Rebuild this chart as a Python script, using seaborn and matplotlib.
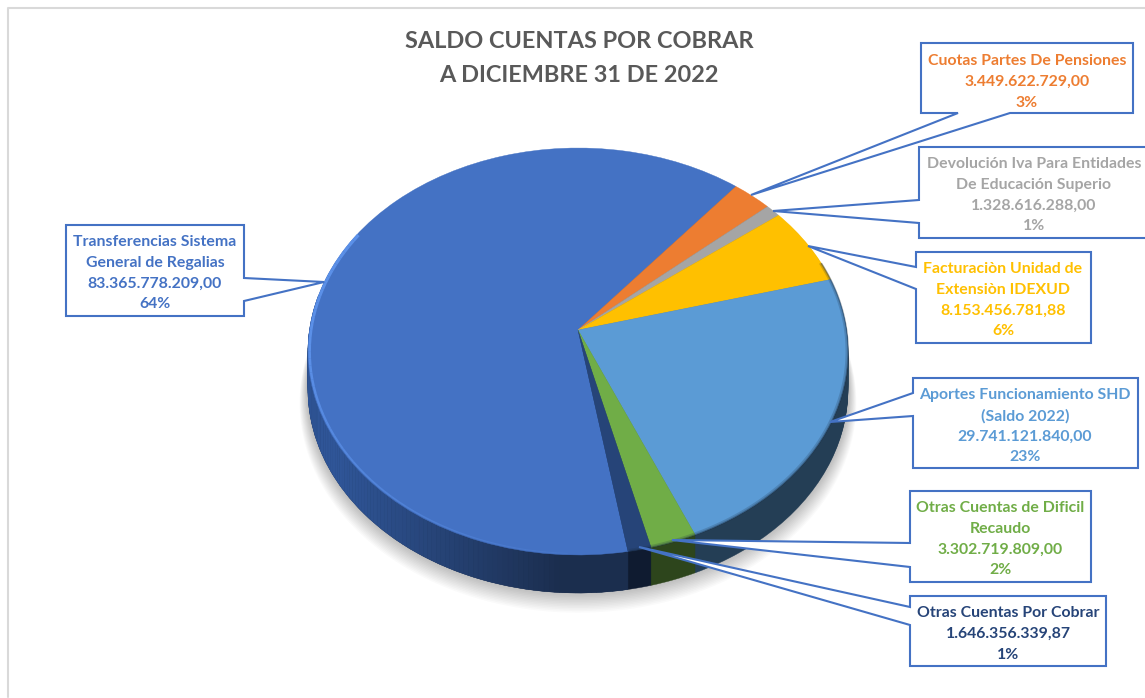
import numpy as np
import matplotlib
matplotlib.use("Agg")
import matplotlib.pyplot as plt
from matplotlib.colors import to_rgb
from matplotlib.patches import Polygon
from matplotlib.transforms import Affine2D, Transform
import seaborn as sns

sns.set_theme(style="white")
plt.rcParams['font.family'] = ['Lato', 'DejaVu Sans']

# data
categories = ["Transferencias Sistema\nGeneral de Regalias",
              "Cuotas Partes De Pensiones",
              "Devolución Iva Para Entidades\nDe Educación Superio",
              "Facturaciòn Unidad de\nExtensiòn IDEXUD",
              "Aportes Funcionamiento SHD\n(Saldo 2022)",
              "Otras Cuentas de Dificil\nRecaudo",
              "Otras Cuentas Por Cobrar"]
values = [83365778209.00, 3449622729.00, 1328616288.00, 8153456781.88,
          29741121840.00, 3302719809.00, 1646356339.87]
value_labels = ["83.365.778.209,00", "3.449.622.729,00", "1.328.616.288,00", "8.153.456.781,88",
                "29.741.121.840,00", "3.302.719.809,00", "1.646.356.339,87"]
percents = ["64%", "3%", "1%", "6%", "23%", "2%", "1%"]
colors = sns.color_palette(["#4472C4", "#ED7D31", "#A5A5A5", "#FFC000",
                            "#5B9BD5", "#70AD47", "#264478"])
side_colors = [tuple(0.4 * c for c in col) for col in colors]

title = "SALDO CUENTAS POR COBRAR\nA DICIEMBRE 31 DE 2022"

# layout of the callouts: box left, right, top, bottom, pointer base, tip, text x, text y
callouts = [
    dict(box=(66, 244, 225, 316), side="right", base=(278, 301), tip=(324, 282), text=(155, 273)),
    dict(box=(921, 1133, 43, 113), side="bottom", base=(958, 1010), tip=(751, 195), text=(1027, 82)),
    dict(box=(919, 1160, 147, 238), side="left", base=(200, 223), tip=(773, 211), text=(1034, 195)),
    dict(box=(916, 1091, 252, 343), side="left", base=(267, 289), tip=(808, 246), text=(1003, 300)),
    dict(box=(913, 1138, 378, 468), side="left", base=(393, 416), tip=(830, 422), text=(1025, 426)),
    dict(box=(910, 1091, 491, 582), side="left", base=(543, 567), tip=(672, 540), text=(1000, 539)),
    dict(box=(910, 1106, 596, 666), side="left", base=(607, 625), tip=(639, 547), text=(1008, 634)),
]

start_angle = -80.4
depth = 38


class Perspective(Transform):
    # unit disc to the tilted pie on the page, in pixels
    input_dims = 2
    output_dims = 2
    is_separable = False
    k = 0.1056

    def transform_non_affine(self, values):
        values = np.asarray(values)
        w = 1 + self.k * values[:, 1]
        return np.c_[578 + 268.5 * values[:, 0] / w, 330 - 201.2 * values[:, 1] / w]


persp = Perspective()


def rim(theta, r=1.0, d=0):
    t = np.radians(theta)
    pts = persp.transform(np.c_[r * np.cos(t), r * np.sin(t)])
    return pts + [0, d]


def draw_pie(cols, trans, z):
    wedges, _ = ax.pie(values, colors=cols, startangle=start_angle, counterclock=False,
                       wedgeprops=dict(transform=trans, linewidth=0.3, zorder=z))
    for w in wedges:
        w.set_edgecolor(w.get_facecolor())


fig, ax = plt.subplots(figsize=(11.45, 6.98), dpi=100)
fig.subplots_adjust(0, 0, 1, 1)

# soft shadow below the pie
circle = np.linspace(0, 360, 241)
for s in range(14):
    pts = rim(circle, r=1.0 + 0.0022 * (14 - s), d=depth + 12 - s)
    ax.add_patch(Polygon(pts, closed=True, fc="#000000", ec="none", alpha=0.018, zorder=1))

# side wall, the same pie swept downwards
for d in range(depth, 0, -1):
    draw_pie(side_colors, persp + Affine2D().translate(0, d) + ax.transData, 2)

# lighter left part of the blue wall, thin strips along the rim
light = np.array(to_rgb("#2F5597"))
dark = np.array(side_colors[0])
strips = np.linspace(-190, start_angle, 110)
for t0, t1 in zip(strips[:-1], strips[1:]):
    edge = rim(np.array([t0, t1]))
    mix = np.clip((560 - edge[:, 0].mean()) / 220, 0, 1)
    col = dark * (1 - mix) + light * mix
    quad = np.r_[edge, rim(np.array([t1, t0]), d=depth)]
    ax.add_patch(Polygon(quad, closed=True, fc=col, ec=col, lw=0.3, zorder=3))

# top face
draw_pie(colors, persp + ax.transData, 4)

# bevel on the rim, fading along the front
steps = np.linspace(150, 268, 60)
for i in range(len(steps) - 1):
    fade = 1 - i / (len(steps) - 1)
    pts = rim(np.array([steps[i], steps[i + 1]]), r=0.994)
    ax.plot(pts[:, 0], pts[:, 1], color="#5B90E8", lw=0.6 + 1.8 * fade, alpha=min(1, 0.15 + fade * 1.2),
            zorder=5, solid_capstyle="butt")
for off, a in [(0.0, 0.45), (0.006, 0.2)]:
    pts = rim(np.linspace(-80, 20, 100), r=1 - off)
    ax.plot(pts[:, 0], pts[:, 1], color="#1A2C40", lw=1.2, alpha=a, zorder=5)

# callouts
for c, name, val, pct, col in zip(callouts, categories, value_labels, percents, colors):
    x0, x1, y0, y1 = c["box"]
    b0, b1 = c["base"]
    if c["side"] == "left":
        pts = [(x0, y0), (x1, y0), (x1, y1), (x0, y1), (x0, b1), c["tip"], (x0, b0)]
    elif c["side"] == "right":
        pts = [(x0, y0), (x1, y0), (x1, b0), c["tip"], (x1, b1), (x1, y1), (x0, y1)]
    else:
        pts = [(x0, y0), (x1, y0), (x1, y1), (b1, y1), c["tip"], (b0, y1), (x0, y1)]
    ax.add_patch(Polygon(pts, closed=True, fc="white", ec="#4472C4", lw=1.5, joinstyle="miter", zorder=6))
    ax.text(c["text"][0], c["text"][1], name + "\n" + val + "\n" + pct, color=col, ha="center", va="center",
            fontsize=11.4, fontweight="bold", linespacing=1.6, zorder=7)

ax.text(579, 58.5, title, color="#595959", ha="center", va="center", fontsize=16.9, fontweight="bold",
        linespacing=1.78, zorder=7)

# sheet border
ax.plot([7.5, 7.5, 1145], [697, 7.5, 7.5], color="#D9D9D9", lw=1.5, zorder=0)

ax.set_aspect("auto")
ax.set_xlim(0, 1145)
ax.set_ylim(698, 0)
ax.axis("off")

fig.savefig("out.png", dpi=100)
